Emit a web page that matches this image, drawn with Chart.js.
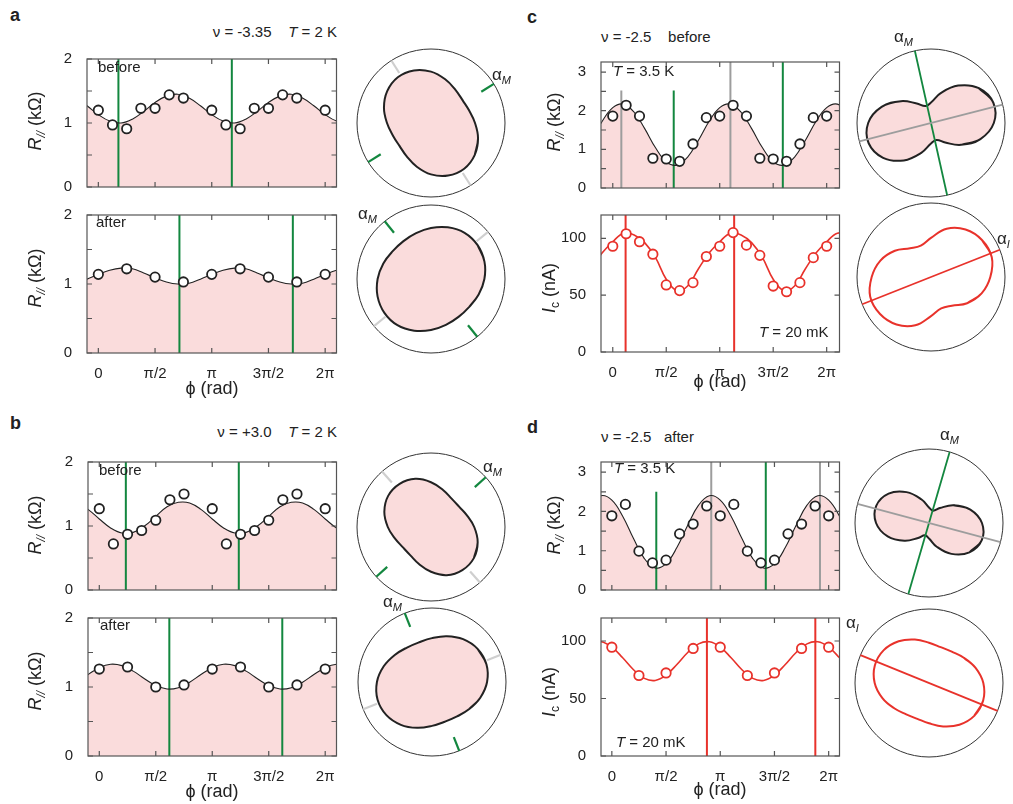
<!DOCTYPE html>
<html>
<head>
<meta charset="utf-8">
<script src="https://cdn.jsdelivr.net/npm/chart.js@4.4.0/dist/chart.umd.min.js"></script>
<style>
  body { margin: 0; background: #fff; }
  #fig { position: relative; width: 1013px; height: 804px; overflow: hidden;
         font-family: "Liberation Sans", Arial, sans-serif; color: #222; }
  #fig canvas { position: absolute; }
  .tx { position: absolute; white-space: pre; }
  .sb { font-size: 12px; position: relative; top: 4px; }
  .sbm { font-size: 11px; position: relative; top: 4px; font-style: italic; }
  .bold { font-weight: bold; }
</style>
</head>
<body>
<div id="fig"></div>
<script>
/* Figure: R// and Ic versus phi, before / after, with polar plots */

// ── Data (phi in units of pi) ─────────────────────────────
const phiFit = [-0.2, -0.1, 0, 0.1, 0.2, 0.3, 0.4, 0.5, 0.6, 0.7, 0.8, 0.9, 1, 1.1, 1.2, 1.3, 1.4, 1.5, 1.6, 1.7, 1.8, 1.9, 2, 2.1, 2.2];
const phi15 = [0, 0.125, 0.25, 0.375, 0.5, 0.625, 0.75, 1, 1.125, 1.25, 1.375, 1.5, 1.625, 1.75, 2];
const phi17 = [0, 0.125, 0.25, 0.375, 0.5, 0.625, 0.75, 0.875, 1, 1.125, 1.25, 1.375, 1.5, 1.625, 1.75, 1.875, 2];
const phi9 = [0, 0.25, 0.5, 0.75, 1, 1.25, 1.5, 1.75, 2];
const xTickVals = [0, 0.5, 1, 1.5, 2];
const xTickLabels = ['0', 'π/2', 'π', '3π/2', '2π'];

// a : nu = -3.35
const aBeforePts = [1.20, 0.97, 0.91, 1.23, 1.23, 1.44, 1.39, 1.20, 0.97, 0.91, 1.23, 1.23, 1.44, 1.39, 1.20];
const aBeforeFit = [1.39, 1.27, 1.13, 1.03, 1.00, 1.06, 1.18, 1.32, 1.42, 1.45, 1.39, 1.27, 1.13, 1.03, 1.00, 1.06, 1.18, 1.32, 1.42, 1.45, 1.39, 1.27, 1.13, 1.03, 1.00];
const aAfterPts = [1.14, 1.22, 1.10, 1.03, 1.14, 1.22, 1.10, 1.03, 1.14];
const aAfterFit = [1.01, 1.07, 1.14, 1.20, 1.23, 1.22, 1.16, 1.09, 1.03, 1.00, 1.01, 1.07, 1.14, 1.20, 1.23, 1.22, 1.16, 1.09, 1.03, 1.00, 1.01, 1.07, 1.14, 1.20, 1.23];
const aBeforeAlphaM = [0.177, 1.177];
const aBeforeMaxDir = [0.68, 1.68];
const aAfterAlphaM = [0.715, 1.715];
const aAfterMaxDir = [0.22, 1.22];

// b : nu = +3.0
const bBeforePts = [1.27, 0.72, 0.87, 0.93, 1.09, 1.41, 1.50, 1.27, 0.72, 0.87, 0.93, 1.09, 1.41, 1.50, 1.27];
const bBeforeFit = [1.36, 1.26, 1.11, 0.97, 0.89, 0.90, 1.00, 1.15, 1.30, 1.37, 1.36, 1.26, 1.11, 0.97, 0.89, 0.90, 1.00, 1.15, 1.30, 1.37, 1.36, 1.26, 1.11, 0.97, 0.89];
const bAfterPts = [1.26, 1.29, 1.00, 1.03, 1.26, 1.29, 1.00, 1.03, 1.26];
const bAfterFit = [1.07, 1.18, 1.28, 1.33, 1.31, 1.23, 1.12, 1.02, 0.97, 0.99, 1.07, 1.18, 1.28, 1.33, 1.31, 1.23, 1.12, 1.02, 0.97, 0.99, 1.07, 1.18, 1.28, 1.33, 1.31];
const bBeforeAlphaM = [0.235, 1.235];
const bBeforeMaxDir = [0.73, 1.73];
const bAfterAlphaM = [0.62, 1.62];
const bAfterMaxDir = [0.12, 1.12];

// c : nu = -2.5 before
const cRPts = [1.86, 2.14, 1.86, 0.77, 0.75, 0.69, 1.14, 1.82, 1.86, 2.14, 1.86, 0.77, 0.75, 0.69, 1.14, 1.82, 1.86];
const cRFit = [1.23, 1.72, 2.08, 2.17, 1.96, 1.53, 1.04, 0.68, 0.59, 0.80, 1.23, 1.72, 2.08, 2.17, 1.96, 1.53, 1.04, 0.68, 0.59, 0.80, 1.23, 1.72, 2.08, 2.17, 1.96];
const cIcPts = [93, 104, 97, 86, 59, 54, 61, 84, 93, 105, 94, 85, 58, 53, 61, 83, 93];
const cIcFit = [73, 87, 97, 104.5, 103, 96, 83, 64, 54, 58, 73, 87, 97, 104.5, 103, 96, 83, 64, 54, 58, 73, 87, 97, 104.5, 103];
const cGray = [0.08, 1.10];
const cGreen = [0.57, 1.59];
const cRed = [0.12, 1.135];

// d : nu = -2.5 after
const dRPts = [1.89, 2.18, 0.99, 0.69, 0.76, 1.43, 1.68, 2.14, 1.89, 2.18, 0.99, 0.69, 0.76, 1.43, 1.68, 2.14, 1.89];
const dRFit = [2.16, 2.40, 2.29, 1.88, 1.31, 0.80, 0.56, 0.67, 1.08, 1.65, 2.16, 2.40, 2.29, 1.88, 1.31, 0.80, 0.56, 0.67, 1.08, 1.65, 2.16, 2.40, 2.29, 1.88, 1.31];
const dIcPts = [94.6, 70.0, 72.2, 93.5, 94.6, 70.0, 72.2, 93.5, 94.6];
const dIcFit = [97.5, 99.3, 94.7, 85.4, 75.0, 67.5, 65.7, 70.3, 79.6, 90.0, 97.5, 99.3, 94.7, 85.4, 75.0, 67.5, 65.7, 70.3, 79.6, 90.0, 97.5, 99.3, 94.7, 85.4, 75.0];
const dGray = [0.917, 1.92];
const dGreen = [0.41, 1.42];
const dRed = [0.877, 1.877];

// ── Styles ────────────────────────────────────────────────
const PINK = '#fadcdc';
const GREEN = '#13873f';
const GRAY = '#9d9d9d';
const RED = '#e8322b';
const INK = '#222';
const FRAME = '#555';

Chart.defaults.font.family = '"Liberation Sans", Arial, sans-serif';
Chart.defaults.color = INK;

const fig = document.getElementById('fig');

// ── Helpers ───────────────────────────────────────────────
function txt(html, x, base, size, align, cls) {
  const d = document.createElement('div');
  d.className = 'tx' + (cls ? ' ' + cls : '');
  d.innerHTML = html;
  d.style.fontSize = size + 'px';
  d.style.lineHeight = size + 'px';
  d.style.left = x + 'px';
  d.style.top = (base - 0.85 * size) + 'px';
  if (align === 'right') d.style.transform = 'translateX(-100%)';
  if (align === 'center') d.style.transform = 'translateX(-50%)';
  fig.appendChild(d);
}

function vtxt(html, cx, cy, size) {
  const d = document.createElement('div');
  d.className = 'tx';
  d.innerHTML = html;
  d.style.fontSize = size + 'px';
  d.style.lineHeight = size + 'px';
  d.style.left = cx + 'px';
  d.style.top = cy + 'px';
  d.style.transform = 'translate(-50%,-50%) rotate(-90deg)';
  fig.appendChild(d);
}

function pts(xs, ys) {
  return xs.map((x, i) => ({ x, y: ys[i] }));
}

// inward ticks on all four sides + frame
const frameTicks = {
  id: 'frameTicks',
  afterDatasetsDraw(chart) {
    const { ctx, chartArea: a, scales: { x, y } } = chart;
    const len = 5;
    ctx.save();
    ctx.strokeStyle = FRAME;
    ctx.lineWidth = 1.2;
    ctx.beginPath();
    x.ticks.forEach(t => {
      const px = x.getPixelForValue(t.value);
      ctx.moveTo(px, a.bottom); ctx.lineTo(px, a.bottom - len);
      ctx.moveTo(px, a.top); ctx.lineTo(px, a.top + len);
    });
    y.ticks.forEach(t => {
      const py = y.getPixelForValue(t.value);
      ctx.moveTo(a.left, py); ctx.lineTo(a.left + len, py);
      ctx.moveTo(a.right, py); ctx.lineTo(a.right - len, py);
    });
    ctx.stroke();
    ctx.strokeRect(a.left, a.top, a.right - a.left, a.bottom - a.top);
    ctx.restore();
  },
};

// outer circle of the polar plots
const outerCircle = {
  id: 'outerCircle',
  beforeDatasetsDraw(chart, args, opts) {
    const { ctx, scales: { x, y } } = chart;
    const cx = x.getPixelForValue(0), cy = y.getPixelForValue(0);
    const r = x.getPixelForValue(opts.outer) - cx;
    ctx.save();
    ctx.strokeStyle = '#333';
    ctx.lineWidth = 1;
    ctx.beginPath();
    ctx.arc(cx, cy, r, 0, Math.PI * 2);
    ctx.stroke();
    ctx.restore();
  },
};

// ── Cartesian panels ──────────────────────────────────────
function cartChart(s) {
  const [l, t, r, b] = s.box;
  const L = 60, T = 6, R = 6, B = s.xLabels ? 34 : 6;
  const cv = document.createElement('canvas');
  cv.width = (r - l) + L + R;
  cv.height = (b - t) + T + B;
  cv.style.left = (l - L) + 'px';
  cv.style.top = (t - T) + 'px';
  fig.appendChild(cv);

  const col = s.red ? RED : INK;
  const datasets = [
    {
      data: pts(s.px, s.py),
      pointRadius: 4.7,
      pointBorderWidth: 1.8,
      pointBackgroundColor: '#fff',
      pointBorderColor: col,
      showLine: false,
      order: 0,
    },
    {
      data: pts(phiFit, s.fit),
      showLine: true,
      borderColor: col,
      borderWidth: s.red ? 1.6 : 1.1,
      pointRadius: 0,
      tension: 0.4,
      fill: s.red ? false : 'origin',
      backgroundColor: PINK,
      order: 1,
    },
  ];
  (s.vlines || []).forEach(v => {
    datasets.push({
      data: [{ x: v.x, y: 0 }, { x: v.x, y: v.top }],
      showLine: true,
      borderColor: v.color,
      borderWidth: 2,
      pointRadius: 0,
      order: 2,
    });
  });

  new Chart(cv, {
    type: 'scatter',
    data: { datasets },
    options: {
      responsive: false,
      animation: false,
      layout: { padding: { left: 0, top: T, right: R, bottom: 0 } },
      plugins: {
        legend: { display: false },
        tooltip: { enabled: false },
        filler: { drawTime: 'beforeDatasetsDraw' },
      },
      scales: {
        x: {
          type: 'linear',
          min: s.xMin, max: s.xMax,
          grid: { display: false },
          border: { display: false },
          afterBuildTicks: sc => { sc.ticks = xTickVals.map(v => ({ value: v })); },
          afterFit: sc => { sc.height = B; },
          ticks: {
            display: !!s.xLabels,
            autoSkip: false, maxRotation: 0, padding: 4,
            font: { size: 15 }, color: INK,
            callback: (v, i) => xTickLabels[i],
          },
        },
        y: {
          type: 'linear',
          min: 0, max: s.yMax,
          grid: { display: false },
          border: { display: false },
          afterFit: sc => { sc.width = L; },
          ticks: {
            stepSize: s.yStep,
            includeBounds: false,
            padding: 7,
            font: { size: 15 }, color: INK,
            callback: v => (Math.abs(v / s.yLabel - Math.round(v / s.yLabel)) < 1e-6 ? v : ''),
          },
        },
      },
    },
    plugins: [frameTicks],
  });
}

// ── Polar panels ──────────────────────────────────────────
function polarPoint(R, p) {
  return { x: R * Math.cos(Math.PI * p), y: R * Math.sin(Math.PI * p) };
}

function polarChart(s) {
  const r = 74, pad = 5, S = 2 * r + 2 * pad;
  const cv = document.createElement('canvas');
  cv.width = S; cv.height = S;
  cv.style.left = (s.cx - r - pad) + 'px';
  cv.style.top = (s.cy - r - pad) + 'px';
  fig.appendChild(cv);

  const o = s.outer;
  const datasets = [];
  (s.ticks || []).forEach(tk => {
    tk.angles.forEach(p => {
      datasets.push({
        data: [polarPoint(0.8 * o, p), polarPoint(o, p)],
        showLine: true, borderColor: tk.color, borderWidth: 2.2,
        pointRadius: 0, clip: false, order: 0,
      });
    });
  });
  (s.diams || []).forEach(dm => {
    datasets.push({
      data: [polarPoint(o, dm.angle), polarPoint(o, dm.angle + 1)],
      showLine: true, borderColor: dm.color, borderWidth: 1.8,
      pointRadius: 0, clip: false, order: 0,
    });
  });
  datasets.push({
    data: phiFit.map((p, i) => polarPoint(s.fit[i], p)),
    showLine: true,
    borderColor: s.red ? RED : INK,
    borderWidth: 2,
    pointRadius: 0,
    tension: 0.4,
    fill: s.red ? false : 'shape',
    backgroundColor: PINK,
    clip: false,
    order: 1,
  });

  new Chart(cv, {
    type: 'scatter',
    data: { datasets },
    options: {
      responsive: false,
      animation: false,
      layout: { padding: pad },
      plugins: {
        legend: { display: false },
        tooltip: { enabled: false },
        filler: { drawTime: 'beforeDatasetsDraw' },
        outerCircle: { outer: o },
      },
      scales: {
        x: { type: 'linear', display: false, min: -o, max: o },
        y: { type: 'linear', display: false, min: -o, max: o },
      },
    },
    plugins: [outerCircle],
  });
}

// ── Build ─────────────────────────────────────────────────
// a
cartChart({ box: [87, 49, 337, 197], xMin: -0.1, xMax: 2.1, yMax: 2, yStep: 0.5, yLabel: 1,
  px: phi15, py: aBeforePts, fit: aBeforeFit,
  vlines: aBeforeAlphaM.map(x => ({ x, top: 3, color: GREEN })) });
cartChart({ box: [87, 205, 337, 353], xMin: -0.1, xMax: 2.1, yMax: 2, yStep: 0.5, yLabel: 1, xLabels: true,
  px: phi9, py: aAfterPts, fit: aAfterFit,
  vlines: aAfterAlphaM.map(x => ({ x, top: 3, color: GREEN })) });
polarChart({ cx: 431, cy: 123, outer: 1.9, fit: aBeforeFit,
  ticks: [{ angles: aBeforeMaxDir, color: '#cfcfcf' }, { angles: aBeforeAlphaM, color: GREEN }] });
polarChart({ cx: 431, cy: 279, outer: 1.58, fit: aAfterFit,
  ticks: [{ angles: aAfterMaxDir, color: '#cfcfcf' }, { angles: aAfterAlphaM, color: GREEN }] });

// b
cartChart({ box: [88, 452, 337, 600], xMin: -0.1, xMax: 2.1, yMax: 2, yStep: 0.5, yLabel: 1,
  px: phi15, py: bBeforePts, fit: bBeforeFit,
  vlines: bBeforeAlphaM.map(x => ({ x, top: 3, color: GREEN })) });
cartChart({ box: [88, 608, 337, 756], xMin: -0.1, xMax: 2.1, yMax: 2, yStep: 0.5, yLabel: 1, xLabels: true,
  px: phi9, py: bAfterPts, fit: bAfterFit,
  vlines: bAfterAlphaM.map(x => ({ x, top: 3, color: GREEN })) });
polarChart({ cx: 431, cy: 527, outer: 1.9, fit: bBeforeFit,
  ticks: [{ angles: bBeforeMaxDir, color: '#cfcfcf' }, { angles: bBeforeAlphaM, color: GREEN }] });
polarChart({ cx: 432, cy: 682, outer: 1.72, fit: bAfterFit,
  ticks: [{ angles: bAfterMaxDir, color: '#cfcfcf' }, { angles: bAfterAlphaM, color: GREEN }] });

// c
cartChart({ box: [601, 52, 840, 198], xMin: -0.11, xMax: 2.12, yMax: 3.26, yStep: 0.5, yLabel: 1,
  px: phi17, py: cRPts, fit: cRFit,
  vlines: [
    { x: cGray[0], top: 2.52, color: GRAY }, { x: cGray[1], top: 4, color: GRAY },
    { x: cGreen[0], top: 2.52, color: GREEN }, { x: cGreen[1], top: 4, color: GREEN },
  ] });
cartChart({ box: [601, 205, 840, 352], xMin: -0.11, xMax: 2.12, yMax: 120.5, yStep: 50, yLabel: 50, xLabels: true, red: true,
  px: phi17, py: cIcPts, fit: cIcFit,
  vlines: cRed.map(x => ({ x, top: 200, color: RED })) });
polarChart({ cx: 931, cy: 123, outer: 2.45, fit: cRFit,
  diams: [{ angle: cGray[0], color: GRAY }, { angle: cGreen[0], color: GREEN }] });
polarChart({ cx: 931, cy: 277, outer: 121, fit: cIcFit, red: true,
  diams: [{ angle: cRed[0], color: RED }] });

// d
cartChart({ box: [601, 452, 840, 600], xMin: -0.1, xMax: 2.1, yMax: 3.26, yStep: 0.5, yLabel: 1,
  px: phi17, py: dRPts, fit: dRFit,
  vlines: [
    { x: dGray[0], top: 4, color: GRAY }, { x: dGray[1], top: 4, color: GRAY },
    { x: dGreen[0], top: 2.5, color: GREEN }, { x: dGreen[1], top: 4, color: GREEN },
  ] });
cartChart({ box: [601, 608, 840, 756], xMin: -0.1, xMax: 2.1, yMax: 120, yStep: 50, yLabel: 50, xLabels: true, red: true,
  px: phi9, py: dIcPts, fit: dIcFit,
  vlines: dRed.map(x => ({ x, top: 200, color: RED })) });
polarChart({ cx: 929, cy: 523, outer: 3.2, fit: dRFit,
  diams: [{ angle: dGray[0], color: GRAY }, { angle: dGreen[0], color: GREEN }] });
polarChart({ cx: 929, cy: 683, outer: 129, fit: dIcFit, red: true,
  diams: [{ angle: dRed[0], color: RED }] });

// ── Text ──────────────────────────────────────────────────
const RTITLE = '<i>R</i><span class="sb"><i>//</i></span> (kΩ)';
const ITITLE = '<i>I</i><span class="sb">c</span> (nA)';
const XTITLE = 'ϕ (rad)';
const AM = 'α<span class="sbm">M</span>';
const AI = 'α<span class="sbm">I</span>';

txt('a', 10, 21, 18, 'left', 'bold');
txt('b', 10, 429, 18, 'left', 'bold');
txt('c', 527, 23, 18, 'left', 'bold');
txt('d', 527, 433, 18, 'left', 'bold');

txt('ν = -3.35    <i>T</i> = 2 K', 337, 37, 15, 'right');
txt('ν = +3.0    <i>T</i> = 2 K', 337, 437, 15, 'right');
txt('ν = -2.5    before', 601, 42, 15, 'left');
txt('ν = -2.5   after', 601, 442, 15, 'left');

txt('before', 98, 72, 15, 'left');
txt('after', 96, 227, 15, 'left');
txt('before', 99, 475, 15, 'left');
txt('after', 100, 630, 15, 'left');
txt('<i>T</i> = 3.5 K', 613, 76, 15, 'left');
txt('<i>T</i> = 20 mK', 759, 337, 15, 'left');
txt('<i>T</i> = 3.5 K', 614, 473, 15, 'left');
txt('<i>T</i> = 20 mK', 616, 747, 15, 'left');

vtxt(RTITLE, 36, 121, 18);
vtxt(RTITLE, 36, 278, 18);
vtxt(RTITLE, 36, 525, 18);
vtxt(RTITLE, 36, 681, 18);
vtxt(RTITLE, 555, 122, 18);
vtxt(ITITLE, 550, 288, 18);
vtxt(RTITLE, 555, 525, 18);
vtxt(ITITLE, 550, 692, 18);

txt(XTITLE, 212, 394, 18, 'center');
txt(XTITLE, 212, 797, 18, 'center');
txt(XTITLE, 720, 387, 18, 'center');
txt(XTITLE, 720, 795, 18, 'center');

txt(AM, 492, 80, 17, 'left');
txt(AM, 358, 219, 17, 'left');
txt(AM, 483, 472, 17, 'left');
txt(AM, 383, 607, 17, 'left');
txt(AM, 894, 42, 17, 'left');
txt(AI, 997, 244, 17, 'left');
txt(AM, 940, 440, 17, 'left');
txt(AI, 846, 628, 17, 'left');
</script>
</body>
</html>
